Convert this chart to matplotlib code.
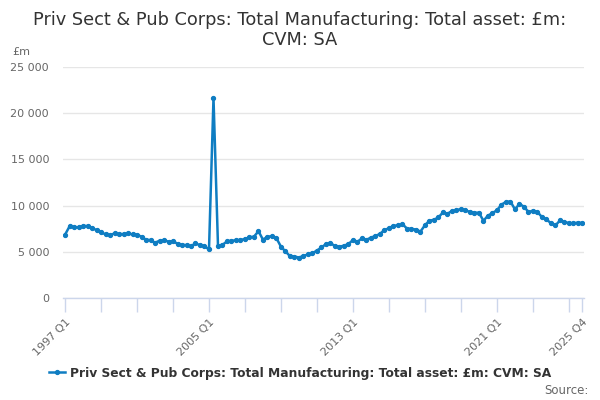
import numpy as np
import matplotlib
matplotlib.use("Agg")
import matplotlib.pyplot as plt
from matplotlib.ticker import FuncFormatter

# quarterly series, 1997 Q1 .. 2025 Q4
start_year = 1997
values = [
    6850, 7750, 7680, 7640, 7790, 7790, 7570, 7350, 7140, 6880,
    6810, 6990, 6920, 6920, 6990, 6880, 6850, 6630, 6300, 6270,
    5980, 6200, 6270, 6090, 6160, 5870, 5760, 5720, 5580, 5940,
    5690, 5620, 5250, 21650, 5620, 5760, 6120, 6200, 6240, 6280,
    6390, 6570, 6640, 7230, 6310, 6640, 6680, 6460, 5550, 5040,
    4530, 4490, 4380, 4560, 4710, 4850, 5140, 5470, 5840, 5950,
    5620, 5550, 5660, 5840, 6280, 6090, 6460, 6310, 6530, 6720,
    6930, 7370, 7540, 7830, 7850, 7990, 7520, 7480, 7410, 7190,
    7880, 8360, 8470, 8720, 9270, 9120, 9420, 9490, 9640, 9490,
    9310, 9230, 9230, 8360, 8910, 9200, 9490, 10110, 10400, 10440,
    9600, 10180, 9890, 9310, 9450, 9310, 8760, 8500, 8100, 7850,
    8390, 8250, 8100, 8070, 8170, 8100,
]
quarters = ["%d Q%d" % (start_year + i // 4, i % 4 + 1) for i in range(len(values))]
shown_labels = ["1997 Q1", "2005 Q1", "2013 Q1", "2021 Q1", "2025 Q4"]
y_ticks = [0, 5000, 10000, 15000, 20000, 25000]

title = "Priv Sect & Pub Corps: Total Manufacturing: Total asset: £m:\nCVM: SA"
series_name = "Priv Sect & Pub Corps: Total Manufacturing: Total asset: £m: CVM: SA"

blue = "#0f7dc2"
axis_col = "#ccd6eb"
grid_col = "#e6e6e6"
label_col = "#666666"

fig = plt.figure(figsize=(6, 4), dpi=100)
ax = fig.add_axes([63 / 600, 1 - 298 / 400, 521 / 600, 231 / 400])

x = np.arange(len(values))
line, = ax.plot(x, values, color=blue, lw=1.8, marker="o", ms=2.8,
                label=series_name)

ax.set_ylim(0, 25000)
ax.set_xlim(-0.45, len(values) - 1 + 0.35)
ax.set_yticks(y_ticks)
ax.yaxis.set_major_formatter(FuncFormatter(lambda v, p: "{:,.0f}".format(v).replace(",", " ")))
ax.grid(axis="y", color=grid_col, lw=1)
ax.set_axisbelow(True)

for s in ["top", "right", "left"]:
    ax.spines[s].set_visible(False)
ax.spines["bottom"].set_color(axis_col)
ax.spines["bottom"].set_linewidth(1)

tick_pos = list(range(0, len(values), 8)) + [len(values) - 1]
ax.set_xticks(tick_pos)
ax.set_xticklabels([quarters[i] if quarters[i] in shown_labels else "" for i in tick_pos],
                   rotation=45, ha="right", rotation_mode="anchor")
ax.tick_params(axis="x", colors=axis_col, length=10, width=1, labelcolor=label_col,
               labelsize=8, pad=4)
ax.tick_params(axis="y", length=0, labelcolor=label_col, labelsize=8, pad=10)

fig.text(300 / 600, 1 - 11 / 400, title, ha="center", va="top", fontsize=12.8,
         color="#333333", linespacing=1.15)
fig.text(12 / 600, 1 - 52 / 400, "£m", ha="left", va="center", fontsize=8, color=label_col)

fig.legend(handles=[line], loc="center", bbox_to_anchor=(300 / 600, 1 - 373 / 400),
           frameon=False, handlelength=1.3, handletextpad=0.4,
           prop={"weight": "bold", "size": 8.8}, labelcolor="#333333")
fig.text(589 / 600, 1 - 390 / 400, "Source:", ha="right", va="center", fontsize=8.5,
         color=label_col)

fig.savefig("out.png", dpi=100)
